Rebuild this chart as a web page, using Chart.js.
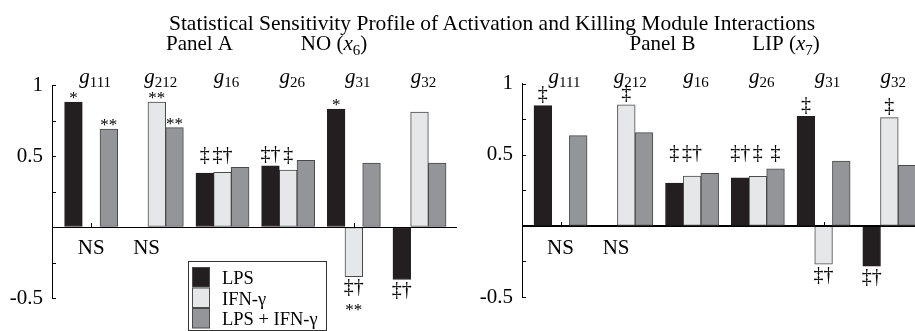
<!DOCTYPE html>
<html><head><meta charset="utf-8">
<script src="https://cdn.jsdelivr.net/npm/chart.js@4.4.1/dist/chart.umd.min.js"></script>
<style>
html,body{margin:0;padding:0;background:#fff;overflow:hidden;width:915px;height:331px;position:relative}
#title{position:absolute;left:0;top:13px;width:984px;text-align:center;font:21.5px "Liberation Serif",serif;line-height:21px;color:#000;white-space:nowrap;pointer-events:none}
.wrap{position:absolute;top:0;height:331px}
canvas{display:block}
</style></head>
<body>
<div class="wrap" style="left:0;width:460px"><canvas id="cA" width="460" height="331"></canvas></div>
<div class="wrap" style="left:460px;width:455px"><canvas id="cB" width="455" height="331"></canvas></div>
<div id="title">Statistical Sensitivity Profile of Activation and Killing Module Interactions</div>
<script>
// ---------- data ----------
const categorySubscripts = ['111', '212', '16', '26', '31', '32'];
const seriesNames = ['LPS', 'IFN-γ', 'LPS + IFN-γ'];
const panelA_LPS   = [0.88, -0.005, 0.38, 0.43, 0.83, -0.37];
const panelA_IFN   = [0.0, 0.88, 0.385, 0.40, -0.35, 0.81];
const panelA_COMBO = [0.69, 0.70, 0.42, 0.47, 0.45, 0.45];
const panelB_LPS   = [0.845, -0.005, 0.30, 0.338, 0.77, -0.284];
const panelB_IFN   = [0.0, 0.85, 0.35, 0.347, -0.27, 0.76];
const panelB_COMBO = [0.634, 0.655, 0.368, 0.40, 0.455, 0.425];
const yLabeledTicks = [1, 0.5, -0.5];
// significance marks: [category, series, text]
const marksA = [[0,0,'*'],[0,2,'**'],[1,1,'**'],[1,2,'**'],[2,0,'‡'],[2,1,'‡†'],[3,0,'‡†'],[3,1,'‡'],[4,0,'*'],[4,1,'‡†'],[4,1,'**'],[5,0,'‡†']];
const marksB = [[0,0,'‡'],[1,1,'‡'],[2,0,'‡'],[2,1,'‡†'],[3,0,'‡†'],[3,1,'‡'],[3,2,'‡'],[4,0,'‡'],[4,1,'‡†'],[5,1,'‡'],[5,0,'‡†']];
const nsA = [[0,1],[1,0]];
const nsB = [[0,1],[1,0]];

// ---------- styles ----------
const SERIF = '"Liberation Serif","Times New Roman",serif';
const fills = ['#231f20', '#e6e7e8', '#939598'];
const borders = ['#231f20', '#4a4a4a', '#4a4a4a'];
const BAR_W = 17.7;

function runs(ctx, parts, x, baseline) {
  let w = 0;
  parts.forEach(p => { ctx.font = p.f; p.w = ctx.measureText(p.t).width; w += p.w; });
  let cx = x - w / 2;
  ctx.textAlign = 'left'; ctx.textBaseline = 'alphabetic';
  parts.forEach(p => { ctx.font = p.f; ctx.fillText(p.t, cx, baseline + (p.dy || 0)); cx += p.w; });
}
function centerText(ctx, t, x, yc) {
  ctx.textAlign = 'center'; ctx.textBaseline = 'alphabetic';
  const m = ctx.measureText(t);
  ctx.fillText(t, x, yc + (m.actualBoundingBoxAscent - m.actualBoundingBoxDescent) / 2);
}

function makePlugin(cfg) {
  return {
    id: 'decor' + cfg.name,
    afterDraw(chart) {
      const ctx = chart.ctx, ys = chart.scales.y, xs = chart.scales.x, a = chart.chartArea;
      ctx.save();
      ctx.fillStyle = '#000';
      // axis line, zero line, inward ticks (solid 1px rects)
      const ax = Math.round(a.left);
      const yTop = Math.round(ys.getPixelForValue(1));
      const yBot = Math.round(ys.getPixelForValue(-0.5));
      ctx.fillRect(ax, yTop, 1, yBot - yTop + 1);
      const y0 = Math.round(ys.getPixelForValue(0));
      ctx.fillRect(ax, y0, Math.round(a.right) - ax, 1);
      ys.ticks.forEach(t => {
        if (Math.abs(t.value) < 1e-9) return;
        ctx.fillRect(ax, Math.round(ys.getPixelForValue(t.value)), 4, 1);
      });
      // category-centre ticks, visible only where the centre bar does not cover them
      const centre = chart.data.datasets[1].data;
      categorySubscripts.forEach((c, i) => {
        if (centre[i].y > 0.02) return;
        ctx.fillRect(Math.round(xs.getPixelForValue(i)), y0 - 4, 1, 4);
      });
      // category labels g_xxx
      categorySubscripts.forEach((s, i) => {
        const cx = xs.getPixelForValue(i) + 4;
        runs(ctx, [{t: 'g', f: 'italic 21px ' + SERIF}, {t: s, f: '15px ' + SERIF, dy: 4}], cx, cfg.gBase);
      });
      // panel labels
      runs(ctx, [{t: cfg.panel, f: '21px ' + SERIF}], cfg.panelX, 50);
      runs(ctx, [{t: cfg.varName + ' (', f: '21px ' + SERIF}, {t: 'x', f: 'italic 21px ' + SERIF},
                 {t: cfg.varSub, f: '15px ' + SERIF, dy: 5}, {t: ')', f: '21px ' + SERIF}], cfg.varX, 50);
      // significance marks
      const yMid = ys.getPixelForValue(0.5) - 1;
      const belowCount = {};
      cfg.marks.forEach(([ci, si, t]) => {
        const el = chart.getDatasetMeta(si).data[ci];
        const v = chart.data.datasets[si].data[ci].y;
        const star = t.indexOf('*') >= 0;
        ctx.font = (star ? '17px ' : '20px ') + SERIF;
        if (v > 0) {
          const yc = Math.min(el.y - (star ? 6.5 : 11), yMid);
          centerText(ctx, t, el.x, yc);
        } else {
          const k = ci + '_' + si;
          const n = belowCount[k] || 0; belowCount[k] = n + 1;
          centerText(ctx, t, el.x, el.y + (n === 0 ? 11 : 31));
        }
      });
      // NS labels
      ctx.font = '21px ' + SERIF;
      cfg.ns.forEach(([ci, si]) => {
        const el = chart.getDatasetMeta(si).data[ci];
        centerText(ctx, 'NS', el.x + (si === 0 ? 7.5 : 0), 247);
      });
      // legend
      if (cfg.legend) {
        ctx.lineWidth = 1;
        ctx.strokeStyle = '#333';
        ctx.fillStyle = '#fff';
        ctx.fillRect(188.5, 261.5, 138, 69);
        ctx.strokeRect(188.5, 261.5, 138, 69);
        const tops = [267, 287.5, 308];
        chart.data.datasets.forEach((ds, i) => {
          ctx.fillStyle = ds.backgroundColor;
          ctx.fillRect(192, tops[i], 18, 20);
          ctx.strokeStyle = '#4a4a4a';
          ctx.strokeRect(192.5, tops[i] + 0.5, 17, 19.5);
          ctx.fillStyle = '#000';
          ctx.font = '18.5px ' + SERIF;
          ctx.textAlign = 'left';
          ctx.fillText(ds.label, 222, tops[i] + 10.5 + 6.5);
        });
      }
      ctx.restore();
    }
  };
}

function makeChart(id, vals, cfg) {
  const datasets = vals.map((arr, si) => ({
    label: seriesNames[si],
    data: arr.map((v, i) => ({x: i, y: v})),
    backgroundColor: fills[si],
    borderColor: borders[si],
    borderWidth: 1,
    borderSkipped: false,
    barThickness: BAR_W
  }));
  return new Chart(document.getElementById(id), {
    type: 'bar',
    data: {datasets},
    options: {
      responsive: false, animation: false, devicePixelRatio: 1,
      layout: {padding: {left: 0, right: cfg.padRight, top: cfg.top, bottom: 331 - cfg.bottom}},
      plugins: {legend: {display: false}, tooltip: {enabled: false}},
      scales: {
        x: {type: 'linear', min: cfg.xmin, max: cfg.xmax, display: false, offset: false,
            grid: {offset: false},
            ticks: {stepSize: 1, includeBounds: false}},
        y: {min: -0.5, max: 1,
            afterFit(s) { s.width = cfg.axisW; },
            ticks: {stepSize: 0.25, padding: 9, color: '#000', font: {family: SERIF, size: 21},
                    callback: v => yLabeledTicks.some(t => Math.abs(t - v) < 1e-9) ? String(v) : ''},
            grid: {drawTicks: false, lineWidth: 1,
                   color: c => (c.tick && Math.abs(c.tick.value) < 1e-9) ? '#000' : 'rgba(0,0,0,0)'},
            border: {display: true, color: '#000', width: 1}}
      }
    },
    plugins: [makePlugin(cfg)]
  });
}

makeChart('cA', [panelA_LPS, panelA_IFN, panelA_COMBO], {
  name: 'A', axisW: 52, padRight: 3, top: 85, bottom: 298, xmin: -0.596, xmax: 5.571,
  gBase: 83, panel: 'Panel A', panelX: 199.5, varName: 'NO', varSub: '6', varX: 334,
  marks: marksA, ns: nsA, legend: true
});
makeChart('cB', [panelB_LPS, panelB_IFN, panelB_COMBO], {
  name: 'B', axisW: 62, padRight: 0, top: 83.5, bottom: 297, xmin: -0.586, xmax: 5.39,
  gBase: 83, panel: 'Panel B', panelX: 202.5, varName: 'LIP', varSub: '7', varX: 326,
  marks: marksB, ns: nsB, legend: false
});
</script>
</body></html>
